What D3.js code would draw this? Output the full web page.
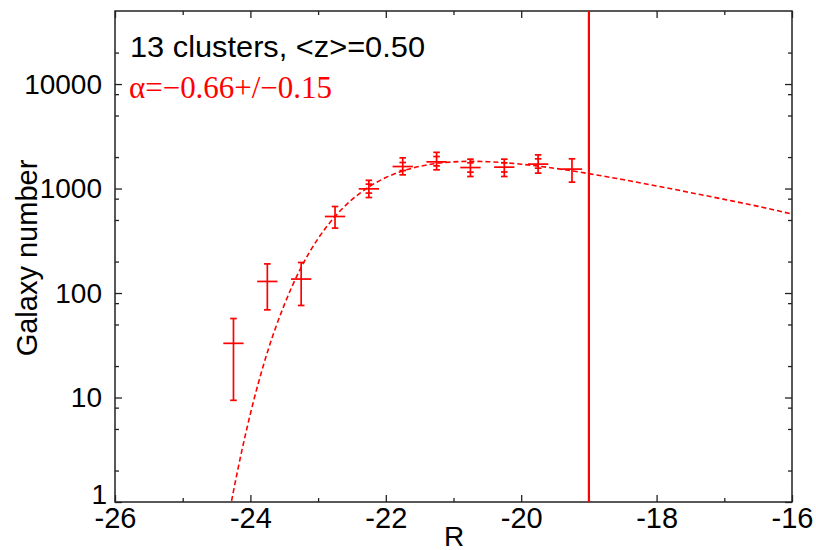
<!DOCTYPE html>
<html><head><meta charset="utf-8">
<script src="https://d3js.org/d3.v7.min.js"></script>
<style>body{margin:0;background:#fff}svg{display:block}</style>
</head><body><svg id="c" width="816" height="550"></svg>
<script>
// ---- data ----
const binR    = [-24.25,-23.75,-23.25,-22.75,-22.25,-21.75,-21.25,-20.75,-20.25,-19.75,-19.25];
const counts  = [33, 129, 136, 540, 993, 1624, 1800, 1588, 1602, 1713, 1534];
const errHi   = [57, 190, 196, 673, 1198, 1967, 2220, 1910, 1910, 2100, 1925];
const errLo   = [9.4, 69, 76, 418, 820, 1352, 1510, 1303, 1303, 1404, 1151];
const innerHi = [null,null,null,null,1102,1774,2024,1762,1762,1923,null];
const innerLo = [null,null,null,null,904,1487,1648,1435,1440,1566,null];
const binHalf = 0.15;
const fitR = [-24.3,-24.25,-24.0,-23.75,-23.5,-23.25,-23.0,-22.75,-22.5,-22.25,-22.0,-21.75,-21.5,-21.25,-21.0,-20.75,-20.5,-20.0,-19.5,-19.0,-18.5,-18.0,-17.5,-17.0,-16.5,-16.0];
const fitN = [0.86,1.27,7.0,27,77,176,332,540,783,1036,1273,1473,1629,1738,1799,1820,1807,1710,1560,1388,1218,1058,914,787,675,570];
const limitR = -19;
const xMajor = [-26,-24,-22,-20,-18,-16];
const xMinor = [-25,-23,-21,-19,-17];
const yMajor = [1,10,100,1000,10000];
const yMinor = [2,5,8,20,50,80,200,500,800,2000,5000,8000,20000];
const xTitle = "R";
const yTitle = "Galaxy number";
const line1 = "13 clusters, <z>=0.50";
const line2 = "α=−0.66+/−0.15";

// ---- layout ----
const L=115, R=792, T=11, B=502;
const RED = "#ff0000";
const svg = d3.select("#c");
const x = d3.scaleLinear().domain([-26,-16]).range([L,R]);
const y = d3.scaleLog().domain([1,50000]).range([B,T]);

const font = "'Liberation Sans', Arial, Helvetica, sans-serif";

svg.append("clipPath").attr("id","plot").append("rect")
  .attr("x",L).attr("y",T).attr("width",R-L).attr("height",B-T);

function styleAxis(g){ g.select(".domain").remove(); g.selectAll("line").attr("stroke","#222").attr("stroke-width",1.3); }
const axB = svg.append("g").attr("transform",`translate(0,${B})`)
  .call(d3.axisBottom(x).tickValues(xMajor).tickSize(-7).tickPadding(0).tickFormat(d=>String(d)));
styleAxis(axB);
axB.selectAll("text").attr("font-family",font).attr("font-size",29).attr("fill","#000").attr("dy","0").attr("y",26);
const axBm = svg.append("g").attr("transform",`translate(0,${B})`)
  .call(d3.axisBottom(x).tickValues(xMinor).tickSize(-4).tickFormat(""));
styleAxis(axBm);
const axT = svg.append("g").attr("transform",`translate(0,${T})`)
  .call(d3.axisTop(x).tickValues(xMajor).tickSize(-7).tickFormat(""));
styleAxis(axT);
const axTm = svg.append("g").attr("transform",`translate(0,${T})`)
  .call(d3.axisTop(x).tickValues(xMinor).tickSize(-4).tickFormat(""));
styleAxis(axTm);

const axL = svg.append("g").attr("transform",`translate(${L},0)`)
  .call(d3.axisLeft(y).tickValues(yMajor).tickSize(-7).tickPadding(13).tickFormat(d3.format("d")));
styleAxis(axL);
axL.selectAll("text").attr("font-family",font).attr("font-size",28).attr("fill","#000").attr("dy","0.33em");
axL.selectAll(".tick").filter(d=>d===1).select("text").attr("dy","0.05em").attr("x",-8);
const axLm = svg.append("g").attr("transform",`translate(${L},0)`)
  .call(d3.axisLeft(y).tickValues(yMinor).tickSize(-4).tickFormat(""));
styleAxis(axLm);
const axR = svg.append("g").attr("transform",`translate(${R},0)`)
  .call(d3.axisRight(y).tickValues(yMajor).tickSize(-7).tickFormat(""));
styleAxis(axR);
const axRm = svg.append("g").attr("transform",`translate(${R},0)`)
  .call(d3.axisRight(y).tickValues(yMinor).tickSize(-4).tickFormat(""));
styleAxis(axRm);

svg.append("rect").attr("x",L).attr("y",T).attr("width",R-L).attr("height",B-T)
  .attr("fill","none").attr("stroke","#222").attr("stroke-width",1.5);

const plot = svg.append("g").attr("clip-path","url(#plot)");

plot.append("path")
  .datum(fitR.map((r,i)=>[r,fitN[i]]))
  .attr("fill","none").attr("stroke",RED).attr("stroke-width",1.6)
  .attr("stroke-dasharray","5,3")
  .attr("d", d3.line().x(d=>x(d[0])).y(d=>y(d[1])).curve(d3.curveMonotoneX));

plot.append("line").attr("x1",x(limitR)).attr("x2",x(limitR)).attr("y1",T).attr("y2",B)
  .attr("stroke",RED).attr("stroke-width",2.2);

const pts = binR.map((r,i)=>({r, n:counts[i], hi:errHi[i], lo:errLo[i], ih:innerHi[i], il:innerLo[i]}));
const eg = plot.append("g").attr("stroke",RED).attr("stroke-width",1.7).attr("fill","none");
const cap = 3.3;
pts.forEach(p=>{
  const cx = x(p.r);
  eg.append("line").attr("x1",cx).attr("x2",cx).attr("y1",y(p.hi)).attr("y2",y(p.lo));
  eg.append("line").attr("x1",cx-cap).attr("x2",cx+cap).attr("y1",y(p.hi)).attr("y2",y(p.hi));
  eg.append("line").attr("x1",cx-cap).attr("x2",cx+cap).attr("y1",y(p.lo)).attr("y2",y(p.lo));
  eg.append("line").attr("x1",x(p.r-binHalf)).attr("x2",x(p.r+binHalf)).attr("y1",y(p.n)).attr("y2",y(p.n));
  if(p.ih!=null){
    eg.append("line").attr("x1",cx-cap).attr("x2",cx+cap).attr("y1",y(p.ih)).attr("y2",y(p.ih));
    eg.append("line").attr("x1",cx-cap).attr("x2",cx+cap).attr("y1",y(p.il)).attr("y2",y(p.il));
  }
});

svg.append("text").attr("x",454).attr("y",546).attr("text-anchor","middle")
  .attr("font-family",font).attr("font-size",28).text(xTitle);
svg.append("text").attr("transform",`translate(37,258) rotate(-90)`).attr("text-anchor","middle")
  .attr("font-family",font).attr("font-size",29).text(yTitle);

svg.append("text").attr("x",130).attr("y",57).attr("font-family",font).attr("font-size",29.5)
  .attr("textLength",295).attr("lengthAdjust","spacingAndGlyphs")
  .attr("fill","#000").text(line1);
svg.append("text").attr("x",129).attr("y",98).attr("font-family","'Liberation Serif','Times New Roman',serif")
  .attr("font-size",31).attr("textLength",203).attr("lengthAdjust","spacingAndGlyphs")
  .attr("fill",RED).text(line2);
</script></body></html>
